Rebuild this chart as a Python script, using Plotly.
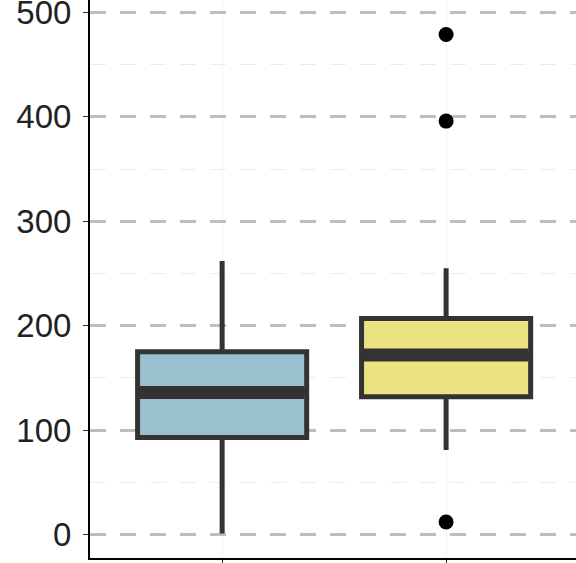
import plotly.graph_objects as go

categories = [1, 2]
q1 = [93, 132]
medians = [136, 172]
q3 = [175, 207]
lower = [1, 81]
upper = [262, 255]
fills = ["#9BC1D0", "#EBE383"]
outlier_x = [2, 2, 2]
outlier_y = [479, 396, 12]
box_width = 0.755

fig = go.Figure()
for i, c in enumerate(categories):
    fig.add_trace(go.Box(
        x=[c], q1=[q1[i]], median=[medians[i]], q3=[q3[i]],
        lowerfence=[lower[i]], upperfence=[upper[i]],
        fillcolor=fills[i], line=dict(color="#333333", width=5),
        whiskerwidth=0, width=box_width, boxpoints=False, showlegend=False,
    ))
    fig.add_trace(go.Scatter(
        x=[c - box_width / 2 + 0.01, c + box_width / 2 - 0.01], y=[medians[i], medians[i]],
        mode="lines", line=dict(color="#333333", width=13), showlegend=False,
        hoverinfo="skip",
    ))
fig.add_trace(go.Scatter(
    x=outlier_x, y=outlier_y, mode="markers",
    marker=dict(color="black", size=15), showlegend=False,
))

fig.update_layout(
    width=576, height=563,
    margin=dict(l=90, r=0, t=0, b=5, autoexpand=False),
    paper_bgcolor="white", plot_bgcolor="white",
    font=dict(family="Arial, Liberation Sans", color="#222222"),
)
fig.update_xaxes(
    range=[0.41, 2.58], tickvals=categories, ticktext=["", ""],
    showgrid=True, gridcolor="#F2F2F2", gridwidth=1, automargin=False,
    zeroline=False, showline=True, linecolor="black", linewidth=2,
    ticks="outside", ticklen=5, tickcolor="#333333",
)
fig.update_yaxes(
    range=[-22.5, 512], tickvals=[0, 100, 200, 300, 400, 500], automargin=False,
    tickfont=dict(size=33, color="#222222"), ticklabeloverflow="allow",
    ticklabelstandoff=5,
    showgrid=True, gridcolor="#BEBEBE", gridwidth=3, griddash="16px,14px",
    minor=dict(dtick=50, tick0=0, showgrid=True, gridcolor="#EBEBEB", gridwidth=1),
    zeroline=False, showline=True, linecolor="black", linewidth=2,
    ticks="outside", ticklen=5, tickcolor="#333333",
)
fig.write_html(
    "out.html",
    config={"displayModeBar": False},
    post_script="document.body.style.margin='0';document.body.style.overflow='hidden';",
)
